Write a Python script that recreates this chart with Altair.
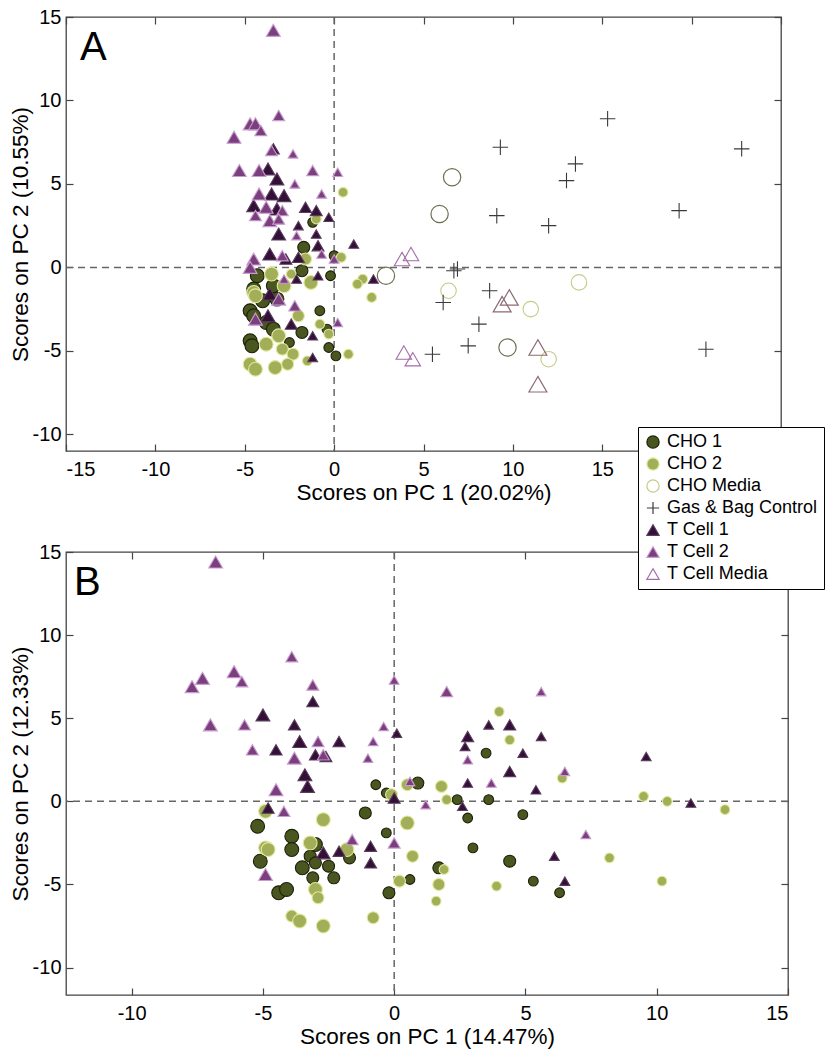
import altair as alt
import pandas as pd

FONT = "Liberation Sans"
SERIES = ["CHO 1", "CHO 2", "CHO Media", "Gas & Bag Control", "T Cell 1", "T Cell 2", "T Cell Media"]
PANEL_LABELS = ["A", "B"]

# ---------------- Panel A : (PC1, PC2, size level) ----------------
A_CHO1 = [(-1.2, 2.7, "S"), (-1.7, 1.2, "M"), (0.0, 0.7, "S"), (-1.8, -0.2, "M"), (-0.2, -0.5, "S"),
          (-4.3, -0.5, "L"), (-4.5, -1.3, "L"), (-3.4, -1.1, "L"), (-4.0, -2.0, "L"), (-3.2, -1.9, "L"),
          (-4.7, -2.6, "L"), (-4.5, -2.9, "L"), (-3.8, -3.3, "L"), (-3.4, -3.7, "L"),
          (-0.8, -2.6, "S"), (-1.8, -3.9, "M"), (-0.4, -3.7, "S"),
          (-4.7, -4.4, "L"), (-4.6, -4.7, "L"), (-2.5, -4.5, "S"), (-0.3, -4.8, "S"), (0.1, -5.3, "S")]
A_CHO2 = [(0.5, 4.5, "S"), (-1.0, 2.9, "S"), (0.4, 0.6, "S"), (-1.6, 0.5, "M"), (-3.5, -0.4, "L"),
          (-2.4, -0.4, "S"), (1.6, -0.7, "S"), (1.3, -1.0, "S"), (2.1, -1.8, "S"), (-1.3, -0.9, "L"),
          (-4.5, -1.5, "L"), (-4.4, -1.7, "L"), (-2.8, -1.1, "L"), (-2.0, -2.9, "M"), (-0.8, -3.4, "S"),
          (-0.3, -4.0, "S"), (-3.1, -4.1, "L"), (-3.8, -4.6, "L"), (-2.9, -4.9, "M"), (-2.3, -5.2, "M"),
          (0.8, -5.2, "S"), (-1.5, -5.6, "S"), (-4.7, -5.8, "L"), (-4.4, -6.1, "L"), (-3.3, -6.0, "L"),
          (-2.6, -5.8, "M")]
# media points: (PC1, PC2, shade) shade d = darker outline, l = lighter outline
A_CHO_MEDIA = [(6.6, 5.4, "d"), (5.9, 3.2, "d"), (2.9, -0.5, "d"), (9.7, -4.8, "d"),
               (6.4, -1.4, "l"), (11.0, -2.5, "l"), (13.7, -0.9, "l"), (12.0, -5.5, "l")]
A_GAS = [(9.3, 7.2), (15.3, 8.9), (13.5, 6.2), (13.0, 5.2), (22.8, 7.1), (9.1, 3.1), (12.0, 2.5),
         (19.3, 3.4), (6.7, -0.2), (6.9, -0.1), (8.7, -1.4), (6.1, -2.1), (8.1, -3.4), (7.5, -4.7),
         (5.5, -5.2), (20.8, -4.9)]
A_T1 = [(-3.4, 7.1, "M"), (-3.7, 5.9, "L"), (-3.2, 5.3, "L"), (-3.5, 4.4, "L"), (-2.8, 4.3, "L"),
        (-4.5, 3.7, "L"), (-3.2, 3.5, "L"), (-1.6, 3.6, "M"), (-1.0, 3.4, "M"), (-0.3, 3.0, "S"),
        (-2.0, 2.5, "S"), (-3.1, 2.0, "L"), (-1.0, 2.0, "S"), (1.1, 1.4, "S"), (-0.9, 1.3, "M"),
        (-3.6, 0.8, "L"), (-2.7, 0.5, "M"), (-2.0, 0.6, "M"), (2.2, -0.7, "S"), (-0.9, -0.5, "S"),
        (-2.1, -0.7, "S"), (-3.6, -1.6, "L"), (-3.7, -2.9, "L"), (-2.4, -3.4, "M"), (-1.2, -4.1, "S"),
        (-1.2, -5.4, "S")]
A_T2 = [(-3.4, 14.2, "L"), (-3.1, 9.1, "M"), (-4.7, 8.6, "L"), (-4.4, 8.6, "L"), (-4.1, 8.2, "M"),
        (-5.6, 7.8, "L"), (-3.5, 7.0, "M"), (-2.3, 6.8, "S"), (-5.3, 5.8, "L"), (-4.2, 5.8, "L"),
        (-1.2, 5.8, "M"), (-2.2, 5.0, "S"), (0.2, 5.7, "S"), (-0.7, 4.4, "S"), (-4.2, 4.4, "L"),
        (-3.8, 3.6, "L"), (-2.9, 3.4, "M"), (-4.4, 3.1, "M"), (-3.6, 2.8, "L"), (-3.1, 2.9, "M"),
        (-2.1, 1.9, "S"), (-2.9, 0.7, "M"), (-0.7, 0.8, "S"), (0.0, 0.5, "S"), (-4.5, 0.5, "L"),
        (-4.7, 0.0, "L"), (-2.8, -0.7, "S"), (-3.1, -1.9, "L"), (-2.2, -2.3, "M"), (-4.4, -3.1, "L"),
        (0.2, -3.3, "S")]
A_T_MEDIA = [(3.8, 0.5, "l"), (4.3, 0.8, "l"), (3.9, -5.1, "l"), (4.4, -5.5, "l"),
             (9.4, -2.2, "d"), (9.8, -1.8, "d"), (11.4, -4.8, "d"), (11.4, -7.0, "d")]

# ---------------- Panel B ----------------
B_CHO1 = [(-0.7, 1.0, "S"), (0.9, 1.1, "M"), (-0.3, 0.5, "S"), (-1.1, -0.7, "M"), (-5.2, -1.5, "L"),
          (-3.9, -2.1, "L"), (-0.3, -1.9, "S"), (-5.1, -3.6, "L"), (-3.9, -2.9, "L"), (-3.0, -2.6, "L"),
          (-1.7, -3.4, "M"), (-3.2, -3.3, "M"), (-3.0, -3.7, "M"), (-2.5, -3.9, "M"), (-3.5, -4.0, "L"),
          (-3.1, -4.6, "M"), (-2.3, -4.6, "M"), (-4.4, -5.5, "L"), (-4.1, -5.3, "L"), (0.6, -4.7, "S"),
          (-0.2, -5.5, "M"), (1.7, -4.0, "M"), (3.5, 2.9, "S"), (2.4, 0.1, "S"), (3.6, 0.1, "S"),
          (4.9, -0.8, "S"), (2.8, -1.0, "S"), (3.0, -2.8, "S"), (4.4, -3.6, "M"), (5.3, -4.8, "S"),
          (6.3, -5.5, "S")]
B_CHO2 = [(0.5, 1.0, "M"), (-0.1, 0.4, "M"), (-4.9, -0.6, "L"), (-2.7, -1.1, "L"), (0.5, -1.3, "L"),
          (-4.9, -2.8, "L"), (-4.8, -2.9, "L"), (-3.2, -2.5, "L"), (-1.8, -2.9, "L"), (0.7, -3.3, "M"),
          (-3.0, -5.3, "L"), (-2.9, -5.8, "M"), (0.2, -4.8, "M"), (1.6, -6.0, "S"), (-3.9, -6.9, "M"),
          (-3.6, -7.2, "L"), (-2.7, -7.5, "L"), (-0.8, -7.0, "M"), (1.7, -5.0, "M"), (4.0, 5.4, "S"),
          (4.4, 3.7, "S"), (6.4, 1.4, "S"), (1.8, 0.9, "M"), (2.0, 0.1, "S"), (1.9, -4.1, "S"),
          (3.9, -5.1, "S"), (9.5, 0.3, "S"), (10.4, 0.0, "S"), (12.6, -0.5, "S"), (8.2, -3.4, "S"),
          (10.2, -4.8, "S")]
B_T1 = [(-3.1, 6.0, "M"), (-5.0, 5.2, "L"), (-3.8, 4.6, "M"), (-3.6, 3.6, "L"), (-2.1, 3.6, "M"),
        (-4.5, 3.1, "M"), (-3.0, 2.8, "M"), (-2.6, 2.7, "M"), (-3.4, 1.6, "L"), (-3.3, 0.9, "L"),
        (0.0, 0.2, "M"), (-4.8, -0.4, "M"), (-0.9, -2.7, "M"), (-2.7, -3.1, "L"), (-2.1, -3.0, "M"),
        (-0.9, -3.7, "M"), (0.1, 4.1, "S"), (3.6, 4.6, "S"), (4.4, 4.6, "M"), (2.8, 3.9, "M"),
        (5.6, 3.9, "S"), (2.7, 3.3, "S"), (4.9, 2.9, "S"), (4.4, 1.8, "M"), (2.8, 1.1, "S"),
        (5.4, 0.7, "S"), (2.6, -0.3, "S"), (6.1, -3.3, "S"), (6.5, -4.8, "S"), (9.6, 2.7, "S"),
        (11.3, -0.1, "S")]
B_T2 = [(-6.8, 14.4, "L"), (-3.9, 8.7, "M"), (-7.7, 6.9, "L"), (-7.3, 7.4, "L"), (-6.1, 7.8, "L"),
        (-5.8, 7.2, "M"), (-3.1, 7.0, "M"), (-7.0, 4.6, "L"), (-5.7, 4.6, "M"), (-2.9, 3.6, "M"),
        (-5.4, 3.1, "M"), (-3.8, 2.6, "L"), (-2.7, 2.8, "M"), (-1.0, 2.6, "S"), (-4.5, 0.7, "L"),
        (0.6, 1.2, "S"), (1.2, -0.2, "S"), (-4.2, -0.6, "M"), (-1.6, -2.3, "M"), (0.0, -2.5, "M"),
        (-4.9, -4.4, "L"), (0.0, 7.3, "S"), (2.0, 6.6, "M"), (5.6, 6.6, "S"), (-0.4, 4.5, "S"),
        (-0.8, 3.6, "S"), (2.8, 2.5, "S"), (6.5, 1.8, "S"), (3.7, 1.1, "S"), (7.3, -2.0, "S")]

A_XTICKS = [-15, -10, -5, 0, 5, 10, 15, 20, 25]
A_YTICKS = [-10, -5, 0, 5, 10, 15]
B_XTICKS = [-10, -5, 0, 5, 10, 15]
B_YTICKS = [-10, -5, 0, 5, 10, 15]
A_XDOM, A_YDOM = [-15, 25], [-11, 15]
B_XDOM, B_YDOM = [-12.5, 15], [-11.65, 15]
A_TITLES = ("Scores on PC 1 (20.02%)", "Scores on PC 2 (10.55%)")
B_TITLES = ("Scores on PC 1 (14.47%)", "Scores on PC 2 (12.33%)")


def build(cho1, cho2, chom, gas, t1, t2, tm):
    rows = []
    for name, pts in (("CHO 1", cho1), ("CHO 2", cho2)):
        rows += [dict(series=name, pc1=x, pc2=y, lv=l, shade="n") for x, y, l in pts]
    rows += [dict(series="CHO Media", pc1=x, pc2=y, lv="O", shade=s) for x, y, s in chom]
    rows += [dict(series="Gas & Bag Control", pc1=x, pc2=y, lv="O", shade="n") for x, y in gas]
    for name, pts in (("T Cell 1", t1), ("T Cell 2", t2)):
        rows += [dict(series=name, pc1=x, pc2=y, lv=l, shade="n") for x, y, l in pts]
    rows += [dict(series="T Cell Media", pc1=x, pc2=y, lv="O", shade=s) for x, y, s in tm]
    return pd.DataFrame(rows)


dfA = build(A_CHO1, A_CHO2, A_CHO_MEDIA, A_GAS, A_T1, A_T2, A_T_MEDIA)
dfB = build(B_CHO1, B_CHO2, [], [], B_T1, B_T2, [])

PLUS = "M-1,0L1,0M0,-1L0,1"
shape_scale = alt.Scale(domain=SERIES, range=["circle", "circle", "circle", PLUS,
                                              "triangle-up", "triangle-up", "triangle-up"])
fill_scale = alt.Scale(domain=SERIES, range=["#4a5620", "#a2ae58", "transparent", "transparent",
                                             "#331137", "#7c3f7d", "transparent"])
stroke_scale = alt.Scale(domain=SERIES, range=["#1c2108", "#e0e99c", "#c4cc86", "#3a3a3a",
                                               "#5a3a5e", "#c89ccf", "#a26ca8"])
size_scale = alt.Scale(domain=["S", "M", "L", "O"], range=[95, 240, 540, 300])

legend = alt.Legend(title=None, orient="none", legendX=572, legendY=410,
                    fillColor="white", strokeColor="black", padding=6,
                    labelFont=FONT, labelFontSize=18, labelColor="black", labelOffset=5,
                    symbolSize=150, symbolStrokeWidth=1.2, rowPadding=4)

ZERO = pd.DataFrame({"z": [0]})
HYPHEN = "replace(datum.label, '\u2212', '-')"


def panel(df, xdom, ydom, xticks, yticks, titles, letter, letter_x, w, h, xlabel_max):
    xs = alt.Scale(domain=xdom, nice=False, zero=False)
    ys = alt.Scale(domain=ydom, nice=False, zero=False)
    common = dict(domain=False, grid=False, ticks=True, tickSize=7, offset=-7, tickColor="#444",
                  tickWidth=1.2, labelFont=FONT, labelFontSize=20, labelColor="black",
                  titleFont=FONT, titleFontSize=22.5, titleFontWeight="normal", titleColor="black")
    xaxis = alt.Axis(orient="bottom", values=xticks, labelPadding=8, titlePadding=2,
                     labelExpr=f"datum.value > {xlabel_max} ? '' : {HYPHEN}",
                     title=titles[0], **common)
    yaxis = alt.Axis(orient="left", values=yticks, labelPadding=5, titlePadding=0,
                     labelExpr=HYPHEN, title=titles[1], **common)
    xtop = alt.Axis(orient="top", values=xticks, labels=False, title=None, **common)
    yright = alt.Axis(orient="right", values=yticks, labels=False, title=None, **common)

    vline = alt.Chart(ZERO).mark_rule(color="#666", strokeDash=[7, 5], strokeWidth=1.5).encode(
        x=alt.X("z:Q", scale=xs, axis=xtop))
    hline = alt.Chart(ZERO).mark_rule(color="#666", strokeDash=[7, 5], strokeWidth=1.5).encode(
        y=alt.Y("z:Q", scale=ys, axis=yright))

    main = alt.Chart(df).transform_filter("datum.shade != 'd'").mark_point(
        opacity=1, fillOpacity=1, strokeOpacity=1, strokeWidth=1.1).encode(
        x=alt.X("pc1:Q", scale=xs, axis=xaxis),
        y=alt.Y("pc2:Q", scale=ys, axis=yaxis),
        shape=alt.Shape("series:N", scale=shape_scale, legend=legend),
        fill=alt.Fill("series:N", scale=fill_scale, legend=legend),
        stroke=alt.Stroke("series:N", scale=stroke_scale, legend=legend),
        size=alt.Size("lv:O", scale=size_scale, legend=None),
    )
    dark_c = alt.Chart(df).transform_filter(
        "datum.shade == 'd' && datum.series == 'CHO Media'").mark_point(
        shape="circle", filled=False, stroke="#6f6f50", strokeWidth=1.2, opacity=1, size=300).encode(
        x=alt.X("pc1:Q", scale=xs, axis=None), y=alt.Y("pc2:Q", scale=ys, axis=None))
    dark_t = alt.Chart(df).transform_filter(
        "datum.shade == 'd' && datum.series == 'T Cell Media'").mark_point(
        shape="triangle-up", filled=False, stroke="#8c6a72", strokeWidth=1.2, opacity=1, size=320).encode(
        x=alt.X("pc1:Q", scale=xs, axis=None), y=alt.Y("pc2:Q", scale=ys, axis=None))

    lab = alt.Chart(pd.DataFrame({"t": [letter]})).mark_text(
        font=FONT, fontSize=40, align="left", baseline="middle", color="black").encode(
        text="t:N", x=alt.value(letter_x), y=alt.value(31))

    layers = [vline, hline, main]
    if (df["shade"] == "d").any():
        layers += [dark_c, dark_t]
    layers.append(lab)
    return alt.layer(*layers).resolve_axis(x="independent", y="independent").properties(
        width=w, height=h)


pA = panel(dfA, A_XDOM, A_YDOM, A_XTICKS, A_YTICKS, A_TITLES, PANEL_LABELS[0], 14, 715, 434, 15)
pB = panel(dfB, B_XDOM, B_YDOM, B_XTICKS, B_YTICKS, B_TITLES, PANEL_LABELS[1], 8, 722, 443, 100)

chart = alt.vconcat(pA, pB, spacing=36).resolve_scale(
    shape="shared", fill="shared", stroke="shared", size="shared").properties(
    padding={"left": 0, "top": -2, "right": 0, "bottom": 0}).configure_view(
    stroke="#444", strokeWidth=1.3)

chart.save("out.html", embed_options={"renderer": "svg", "actions": False})
